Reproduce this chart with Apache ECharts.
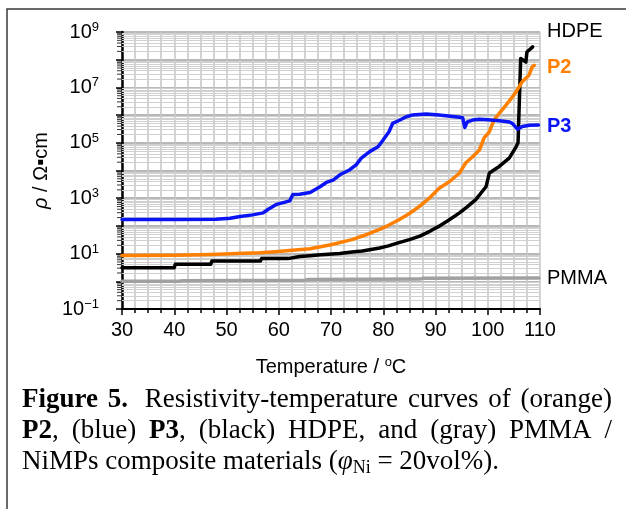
<!DOCTYPE html>
<html>
<head>
<meta charset="utf-8">
<script src="https://cdn.jsdelivr.net/npm/echarts@6/dist/echarts.min.js"></script>
<style>
  html, body { margin: 0; padding: 0; background: #fff; }
  #chart { width: 626px; height: 509px; }
</style>
</head>
<body>
<div id="chart"></div>
<script>
// resistivity (ohm*cm) vs temperature (C)
var hdpeT   = [30, 40, 40.2, 47, 47.2, 56.5, 56.7, 61.8, 62, 64, 66, 68, 71.7, 74, 76, 79.3, 81, 83, 85, 87, 89, 90.7, 92.5, 94.6, 96, 97.7, 99.7, 100.3, 102.2, 104.1, 105.4, 105.8, 106.3, 107.3, 107.5, 108.6];
var hdpeRho = [3.1, 3.1, 4.1, 4.1, 5.4, 5.4, 6.6, 6.6, 7.6, 7.9, 8.4, 9.0, 10, 11.5, 12.5, 16, 19, 25, 32, 43, 65, 98, 160, 295, 480, 890, 2650, 8100, 14000, 28000, 70000, 100000, 1.1e8, 8.3e7, 1.9e8, 2.9e8];

var p2T   = [30, 40, 47, 52, 56.4, 60, 62, 66, 70, 74, 77, 79.3, 81, 83.1, 85, 86.9, 88.8, 90.7, 92.7, 94.6, 95.8, 97, 98.4, 99.3, 100.3, 101.2, 102.2, 103.5, 104.5, 105.4, 106.6, 107.9, 108.5, 108.9];
var p2Rho = [8.5, 8.7, 9.3, 10, 10.7, 12, 13, 15, 21, 32, 50, 75, 105, 170, 280, 500, 1000, 2300, 4000, 8100, 19000, 30000, 55000, 150000, 250000, 660000, 1.15e6, 2.3e6, 4e6, 6.9e6, 1.6e7, 2.75e7, 5.5e7, 6.3e7];

var p3T   = [30, 40, 48, 50.7, 52.6, 55, 57, 58, 59.6, 62.1, 62.7, 64, 66, 67.9, 69.1, 70.4, 71.7, 73.6, 74.8, 75.8, 77.4, 79, 79.9, 81.1, 81.8, 83.1, 84.4, 85.5, 87.6, 88.2, 90.7, 92, 94.6, 95.2, 95.6, 96.1, 97.1, 98.4, 100, 102.2, 104.2, 104.7, 105.7, 106.6, 108, 109.7];
var p3Rho = [170, 170, 175, 190, 220, 250, 295, 400, 600, 800, 1350, 1400, 1600, 2600, 3700, 4500, 7000, 10700, 16000, 28000, 48000, 72000, 120000, 250000, 500000, 650000, 870000, 1.0e6, 1.08e6, 1.1e6, 1.0e6, 9.5e5, 8.3e5, 8.0e5, 3.6e5, 5.7e5, 6.6e5, 7.1e5, 6.8e5, 6.3e5, 5.6e5, 5.0e5, 3.1e5, 3.9e5, 4.3e5, 4.4e5];

var pmmaT   = [30, 41, 41.5, 65, 65.5, 87, 87.5, 109.8];
var pmmaRho = [1.0, 1.0, 1.05, 1.1, 1.15, 1.2, 1.28, 1.32];

// axis ticks
var labelExp = [-1, 1, 3, 5, 7, 9];
var decadeExp = [-1, 0, 1, 2, 3, 4, 5, 6, 7, 8];
var minorMult = [2, 3, 4, 5, 6, 7, 8, 9];

function pairs(t, r) {
  return t.map(function (v, i) { return [v, r[i]]; });
}

var minorVals = [];
decadeExp.forEach(function (e) {
  minorMult.forEach(function (m) {
    minorVals.push(+(m * Math.pow(10, e)).toPrecision(3));
  });
});

// caption text, justified by hand
var cv = document.createElement('canvas').getContext('2d');
function tw(txt, font) { cv.font = font; return cv.measureText(txt).width; }
var SERIF = '"Liberation Serif", "Times New Roman", serif';
var fN = '27px ' + SERIF, fB = 'bold 27px ' + SERIF, fI = 'italic 27px ' + SERIF, fS = '18px ' + SERIF;

function lineEls(words, y, x0, x1, extra) {
  var widths = words.map(function (ws) {
    return ws.reduce(function (s, p) { return s + tw(p[0], p[1]); }, 0);
  });
  var total = widths.reduce(function (a, b) { return a + b; }, 0);
  var gap = x1 == null ? 0 : (x1 - x0 - total - (extra || 0)) / (words.length - 1);
  var els = [], x = x0;
  words.forEach(function (ws, i) {
    ws.forEach(function (p) {
      els.push({
        type: 'text', x: x, y: y + (p[2] || 0),
        style: { text: p[0], font: p[1], fill: '#000', align: 'left', verticalAlign: 'middle', textAlign: 'left', textVerticalAlign: 'middle' }
      });
      x += tw(p[0], p[1]);
    });
    x += gap + (i === 1 && extra ? extra : 0);
  });
  return els;
}

var caption = []
  .concat(lineEls([[['Figure', fB]], [['5.', fB]], [['Resistivity-temperature', fN]], [['curves', fN]], [['of', fN]], [['(orange)', fN]]], 400, 22, 612, tw(' ', fN)))
  .concat(lineEls([[['P2', fB], [',', fN]], [['(blue)', fN]], [['P3', fB], [',', fN]], [['(black)', fN]], [['HDPE,', fN]], [['and', fN]], [['(gray)', fN]], [['PMMA', fN]], [['/', fN]]], 431, 22, 612))
  .concat(lineEls([[['NiMPs composite materials (', fN], ['\u03c6', fI], ['Ni', fS, 6], [' = 20vol%).', fN]]], 462, 22, null));

var SANS = '"Liberation Sans", Arial, sans-serif';
function tag(text, color, y, bold) {
  return {
    type: 'text', x: 547, y: y,
    style: { text: text, font: (bold ? 'bold ' : '') + '20px ' + SANS, fill: color, align: 'left', verticalAlign: 'middle', textAlign: 'left', textVerticalAlign: 'middle' }
  };
}

var chart = echarts.init(document.getElementById('chart'));

var lineStyle = function (c) {
  return { color: c, width: 3.5, cap: 'round', join: 'round' };
};

chart.setOption({
  animation: false,
  backgroundColor: '#fff',
  grid: { left: 122, top: 32, width: 418, height: 277, containLabel: false, outerBoundsMode: 'none' },
  xAxis: {
    type: 'value', min: 30, max: 110, interval: 10,
    axisLine: { show: true, onZero: false, lineStyle: { color: '#000', width: 2 } },
    axisTick: { show: true, inside: false, length: 6, lineStyle: { color: '#000', width: 1.5 } },
    minorTick: { show: true, splitNumber: 4, length: 4, lineStyle: { color: '#000', width: 1.5 } },
    splitLine: { show: true, lineStyle: { color: '#c4c4c4', width: 1.5 } },
    minorSplitLine: { show: true, lineStyle: { color: '#c4c4c4', width: 1.5 } },
    axisLabel: { fontSize: 20, color: '#000', fontFamily: SANS, margin: 11, showMinLabel: true, showMaxLabel: true },
    name: '{n|Temperature / }{s|o}{n|C}',
    nameLocation: 'middle', nameGap: 47,
    nameTextStyle: {
      rich: {
        n: { fontSize: 20, fontFamily: SANS, color: '#000', lineHeight: 22 },
        s: { fontSize: 13, fontFamily: SANS, color: '#000', lineHeight: 13, verticalAlign: 'top' }
      }
    }
  },
  yAxis: {
    type: 'log', logBase: 10, min: 0.1, max: 1e9, splitNumber: 10,
    axisLine: { show: true, onZero: false, lineStyle: { color: '#000', width: 2.5 } },
    axisTick: { show: true, inside: false, length: 6, lineStyle: { color: '#000', width: 1.5 } },
    splitLine: { show: true, lineStyle: { color: '#b8b8b8', width: 2 } },
    axisLabel: {
      margin: 23, showMinLabel: true, showMaxLabel: true,
      formatter: function (v) {
        var e = Math.round(Math.log10(v));
        if (labelExp.indexOf(e) < 0) return '';
        return '{b|10}{s|' + (e < 0 ? '\u2212' + (-e) : e) + '}';
      },
      rich: {
        b: { fontSize: 20, fontFamily: SANS, color: '#000', lineHeight: 22 },
        s: { fontSize: 13, fontFamily: SANS, color: '#000', lineHeight: 13, verticalAlign: 'top' }
      }
    },
    name: '{i|\u03c1}{n| / \u03a9\u25aacm}',
    nameLocation: 'middle', nameGap: 68, nameRotate: 90,
    nameTextStyle: {
      rich: {
        i: { fontSize: 20, fontFamily: SANS, color: '#000', fontStyle: 'italic' },
        n: { fontSize: 20, fontFamily: SANS, color: '#000' }
      }
    }
  },
  series: [
    {
      name: 'minor', type: 'scatter', z: 1, silent: true, clip: false,
      data: minorVals.map(function (v) { return [30, v]; }),
      symbol: 'rect', symbolSize: [4, 1], symbolOffset: [-3, 0],
      itemStyle: { color: '#000' },
      markLine: {
        z: 1, silent: true, symbol: ['none', 'none'], label: { show: false },
        lineStyle: { color: '#d0d0d0', width: 1, type: 'solid' },
        emphasis: { disabled: true },
        data: minorVals.map(function (v) { return { yAxis: v }; })
      }
    },
    { name: 'PMMA', type: 'line', z: 3, symbol: 'none', data: pairs(pmmaT, pmmaRho), lineStyle: lineStyle('#a0a0a0') },
    { name: 'HDPE', type: 'line', z: 4, symbol: 'none', data: pairs(hdpeT, hdpeRho), lineStyle: lineStyle('#000000') },
    { name: 'P2', type: 'line', z: 5, symbol: 'none', data: pairs(p2T, p2Rho), lineStyle: lineStyle('#ff8000') },
    { name: 'P3', type: 'line', z: 6, symbol: 'none', data: pairs(p3T, p3Rho), lineStyle: lineStyle('#0a14f5') }
  ],
  graphic: [
    { type: 'rect', shape: { x: 7, y: 9, width: 700, height: 600 }, style: { fill: 'none', stroke: '#3a3a3a', lineWidth: 1.5 } },
    tag('HDPE', '#000', 31, false),
    tag('P2', '#ff8000', 67, true),
    tag('P3', '#0a14f5', 126, true),
    tag('PMMA', '#000', 278, false)
  ].concat(caption)
});
</script>
</body>
</html>
